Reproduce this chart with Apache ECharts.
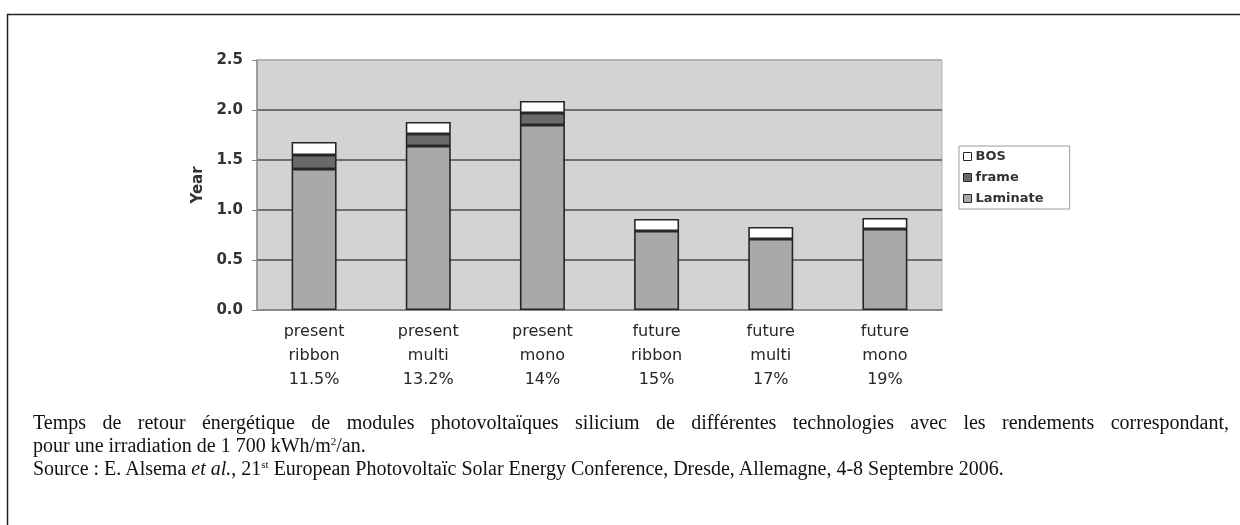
<!DOCTYPE html>
<html>
<head>
<meta charset="utf-8">
<script src="https://cdn.jsdelivr.net/npm/echarts@6/dist/echarts.min.js"></script>
<style>
  html, body { margin: 0; padding: 0; background: #fff; }
  #chart { position: absolute; left: 0; top: 0; width: 1240px; height: 525px; }
  .caption { position: absolute; left: 33px; width: 1196px; font-family: "Liberation Serif", "DejaVu Serif", serif;
             font-size: 20px; color: #111; line-height: 23px; white-space: nowrap; }
  .just { text-align: justify; text-align-last: justify; white-space: normal; }
  sup { font-size: 11px; line-height: 0; vertical-align: 7px; }
</style>
</head>
<body>
<div id="chart"></div>
<div class="caption just" style="top:411px">Temps de retour énergétique de modules photovoltaïques silicium de différentes technologies avec les rendements correspondant,</div>
<div class="caption" style="top:434px">pour une irradiation de 1 700 kWh/m<sup>2</sup>/an.</div>
<div class="caption" style="top:457px">Source : E. Alsema <i>et al.</i>, 21<sup>st</sup> European Photovoltaïc Solar Energy Conference, Dresde, Allemagne, 4-8 Septembre 2006.</div>
<script>
var categories = ['present\nribbon\n11.5%', 'present\nmulti\n13.2%', 'present\nmono\n14%',
                  'future\nribbon\n15%', 'future\nmulti\n17%', 'future\nmono\n19%'];
var laminate = [1.41, 1.64, 1.85, 0.79, 0.71, 0.81];
var frame = [0.14, 0.12, 0.12, null, null, null];
var bos = [0.13, 0.12, 0.12, 0.12, 0.12, 0.11];

var myChart = echarts.init(document.getElementById('chart'));

var barBorder = { borderColor: '#262626', borderWidth: 1.6 };

var option = {
    animation: false,
    textStyle: { fontFamily: 'DejaVu Sans' },
    grid: {
        left: 257, right: 298, top: 60, bottom: 215,
        show: true,
        backgroundColor: '#d3d3d3',
        borderColor: '#b4b4b4',
        borderWidth: 1
    },
    legend: {
        data: ['BOS', 'frame', 'Laminate'],
        orient: 'vertical',
        left: 959, top: 146,
        backgroundColor: '#fff',
        borderColor: '#9a9a9a',
        borderWidth: 1,
        padding: [4, 26, 4, 4],
        itemWidth: 8, itemHeight: 8, itemGap: 8,
        icon: 'rect',
        itemStyle: { borderWidth: 1, borderColor: '#262626' },
        textStyle: { fontSize: 13, fontWeight: 'bold', color: '#333', padding: [0, 0, 0, -1] }
    },
    xAxis: {
        type: 'category',
        data: categories,
        axisLine: { lineStyle: { color: '#8a8a8a', width: 1.5 } },
        axisTick: { length: 4, lineStyle: { color: '#8a8a8a' } },
        axisLabel: { color: '#262626', fontSize: 16, lineHeight: 24, margin: 10 }
    },
    yAxis: {
        type: 'value',
        min: 0, max: 2.5, interval: 0.5,
        name: 'Year',
        nameLocation: 'middle',
        nameRotate: 90,
        nameGap: 42,
        nameTextStyle: { fontSize: 15, fontWeight: 'bold', color: '#333' },
        axisLine: { show: true, lineStyle: { color: '#8a8a8a', width: 1.5 } },
        axisTick: { show: true, length: 5, lineStyle: { color: '#8a8a8a' } },
        axisLabel: {
            color: '#333', fontSize: 15, fontWeight: 'bold', margin: 14,
            formatter: function (v) { return v.toFixed(1); }
        },
        splitLine: { lineStyle: { color: ['#8a8a8a', '#6e6e6e', '#6e6e6e', '#6e6e6e', '#6e6e6e', '#b4b4b4'], width: 1.8 } }
    },
    series: [
        { name: 'Laminate', type: 'bar', stack: 'total', barWidth: 45, data: laminate,
          itemStyle: Object.assign({ color: '#a9a9a9' }, barBorder) },
        { name: 'frame', type: 'bar', stack: 'total', barWidth: 45, data: frame,
          itemStyle: Object.assign({ color: '#6a6a6a' }, barBorder) },
        { name: 'BOS', type: 'bar', stack: 'total', barWidth: 45, data: bos,
          itemStyle: Object.assign({ color: '#ffffff' }, barBorder) }
    ],
    graphic: [{
        type: 'polyline',
        shape: { points: [[7.5, 525], [7.5, 14.5], [1240, 14.5]] },
        style: { stroke: '#222', lineWidth: 1.5, fill: null }
    }]
};

myChart.setOption(option);
</script>
</body>
</html>
